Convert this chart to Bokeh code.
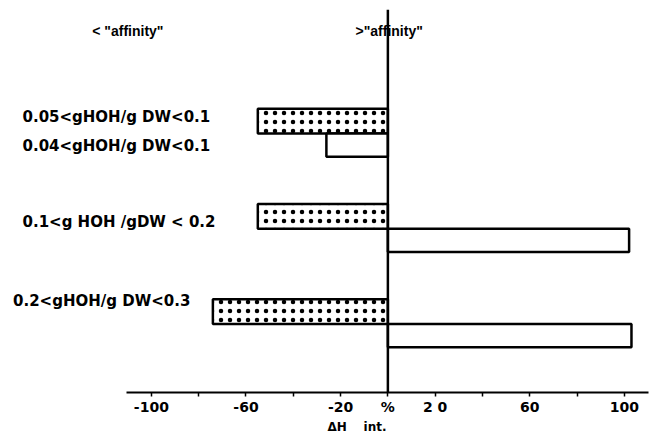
from bokeh.plotting import figure
from bokeh.models import Range1d, FixedTicker, Span, Label, ColumnDataSource, LinearAxis, Title
from bokeh.embed import file_html
from bokeh.resources import INLINE

# ---- data ----
range_labels = ["0.05<gHOH/g DW<0.1", "0.04<gHOH/g DW<0.1",
                "0.1<g HOH /gDW < 0.2", "0.2<gHOH/g DW<0.3"]
group_pos = [0, 1, 2]
dotted_values = [-55, -55, -74]
white_values = [-26, 102, 103]
x_ticks = [-100, -80, -60, -40, -20, 0, 20, 40, 60, 80, 100]
x_tick_labels = ["-100", "", "-60", "", "-20", "%", "2 0", "", "60", "", "100"]
side_labels = ['< "affinity"', '>"affinity"']
axis_title = "\u0394H\u00a0\u00a0\u00a0\u00a0int."

# ---- layout ----
label_offsets = [-0.17, 0.13, -0.07, -0.24]
label_groups = [0, 0, 1, 2]
label_x = [-154.5, -154.5, -154.5, -158.5]
dot_h = 0.26
white_h = 0.245

p = figure(width=655, height=433, frame_width=648, frame_height=383,
           output_backend="svg", toolbar_location=None,
           x_range=Range1d(-163.8, 110.2), y_range=Range1d(2.72, -1.302),
           min_border_left=0, min_border_right=7, min_border_top=9,
           min_border_bottom=38, x_axis_location=None)
p.outline_line_color = None
p.xgrid.visible = False
p.ygrid.visible = False
p.yaxis.visible = False

src_d = ColumnDataSource(dict(y=[g - dot_h / 2 for g in group_pos], right=dotted_values))
src_w = ColumnDataSource(dict(y=[g + white_h / 2 for g in group_pos], right=white_values))

p.hbar(y="y", right="right", left=0, height=dot_h, source=src_d,
       fill_color="white", line_color="black", line_width=2.5,
       hatch_pattern="dot", hatch_color="black", hatch_scale=9, hatch_weight=3)
p.hbar(y="y", right="right", left=0, height=white_h, source=src_w,
       fill_color="white", line_color="black", line_width=2.5)

p.add_layout(Span(location=0, dimension="height", line_color="black", line_width=2.5))

ax = LinearAxis(bounds=(-110.6, 110.2))
ax.ticker = FixedTicker(ticks=x_ticks)
ax.major_label_overrides = {t: l for t, l in zip(x_ticks, x_tick_labels)}
ax.axis_line_width = 2.2
ax.axis_line_color = "black"
ax.major_tick_line_width = 1.5
ax.major_tick_line_color = "black"
ax.major_tick_in = 0
ax.major_tick_out = 4
ax.minor_tick_line_color = None
ax.major_label_standoff = 2
ax.major_label_text_font = "DejaVu Sans"
ax.major_label_text_font_style = "bold"
ax.major_label_text_font_size = "14px"
ax.major_label_text_color = "black"
p.add_layout(ax, "below")

t = Title(text=axis_title, align="left", offset=327, standoff=0,
          text_font="DejaVu Sans", text_font_style="bold", text_font_size="12px",
          text_color="black")
p.add_layout(t, "below")

for txt, g, off, x in zip(range_labels, label_groups, label_offsets, label_x):
    p.add_layout(Label(x=x, y=g + off, text=txt, text_font="DejaVu Sans",
                       text_font_style="bold", text_font_size="15px",
                       text_baseline="middle", text_align="left", text_color="black"))

p.add_layout(Label(x=-125, y=-1.08, text=side_labels[0], text_font="Liberation Sans",
                   text_font_style="bold", text_font_size="14px",
                   text_baseline="middle", text_color="black"))
p.add_layout(Label(x=-13.7, y=-1.08, text=side_labels[1], text_font="Liberation Sans",
                   text_font_style="bold", text_font_size="14px",
                   text_baseline="middle", text_color="black"))

open("out.html", "w").write(file_html(p, INLINE))
